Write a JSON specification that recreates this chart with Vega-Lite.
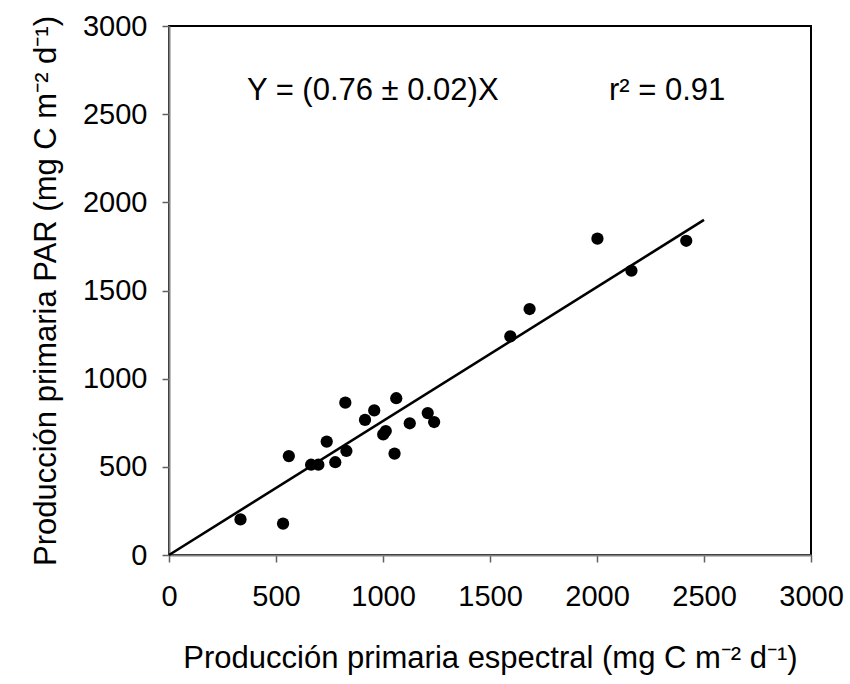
{
  "$schema": "https://vega.github.io/schema/vega-lite/v6.json",
  "autosize": {"type": "none"},
  "padding": {"left": 169, "top": 26, "right": 39, "bottom": 129},
  "width": 642,
  "height": 529,
  "background": "white",
  "config": {
    "font": "Liberation Sans",
    "view": {"stroke": "black", "strokeWidth": 2},
    "axis": {
      "grid": false,
      "domainColor": "#808080",
      "domainWidth": 2,
      "tickColor": "#606060",
      "tickWidth": 1.5,
      "tickSize": 7,
      "format": "d",
      "labelFlush": false,
      "labelOverlap": false,
      "labelFont": "Liberation Sans",
      "labelFontSize": 29,
      "labelColor": "black",
      "titleFont": "Liberation Sans",
      "titleFontSize": 31,
      "titleFontWeight": "normal",
      "titleColor": "black"
    }
  },
  "datasets": {
    "pts": [
      {"esp": 334, "par": 202},
      {"esp": 533, "par": 178},
      {"esp": 560, "par": 561},
      {"esp": 664, "par": 512},
      {"esp": 698, "par": 512},
      {"esp": 737, "par": 643},
      {"esp": 777, "par": 526},
      {"esp": 824, "par": 864},
      {"esp": 829, "par": 590},
      {"esp": 916, "par": 766},
      {"esp": 959, "par": 820},
      {"esp": 1001, "par": 684},
      {"esp": 1013, "par": 703},
      {"esp": 1054, "par": 575},
      {"esp": 1062, "par": 889},
      {"esp": 1125, "par": 747},
      {"esp": 1209, "par": 805},
      {"esp": 1239, "par": 754},
      {"esp": 1595, "par": 1240},
      {"esp": 1685, "par": 1395},
      {"esp": 2002, "par": 1794},
      {"esp": 2161, "par": 1612},
      {"esp": 2417, "par": 1782}
    ],
    "fit": [
      {"esp": 0, "par": 0},
      {"esp": 2500, "par": 1900}
    ],
    "labels": [
      {"esp": 364, "par": 2580, "txt": "Y = (0.76 ± 0.02)X"},
      {"esp": 2056, "par": 2580, "txt": "r² = 0.91"}
    ]
  },
  "layer": [
    {
      "data": {"name": "fit"},
      "mark": {"type": "line", "color": "black", "strokeWidth": 2.6},
      "encoding": {
        "x": {
          "field": "esp", "type": "quantitative",
          "scale": {"domain": [0, 3000], "nice": false},
          "axis": {"values": [0, 500, 1000, 1500, 2000, 2500, 3000], "labelPadding": 20, "titlePadding": 32,
                   "title": "Producción primaria espectral (mg C m⁻² d⁻¹)"}
        },
        "y": {
          "field": "par", "type": "quantitative",
          "scale": {"domain": [0, 3000], "nice": false},
          "axis": {"values": [0, 500, 1000, 1500, 2000, 2500, 3000], "labelPadding": 15, "titlePadding": 20,
                   "title": "Producción primaria PAR (mg C m⁻² d⁻¹)"}
        }
      }
    },
    {
      "data": {"name": "pts"},
      "mark": {"type": "circle", "color": "black", "opacity": 1, "size": 150},
      "encoding": {
        "x": {"field": "esp", "type": "quantitative"},
        "y": {"field": "par", "type": "quantitative"}
      }
    },
    {
      "data": {"name": "labels"},
      "mark": {"type": "text", "align": "left", "baseline": "alphabetic", "fontSize": 31, "font": "Liberation Sans", "color": "black"},
      "encoding": {
        "x": {"field": "esp", "type": "quantitative"},
        "y": {"field": "par", "type": "quantitative"},
        "text": {"field": "txt"}
      }
    }
  ]
}
